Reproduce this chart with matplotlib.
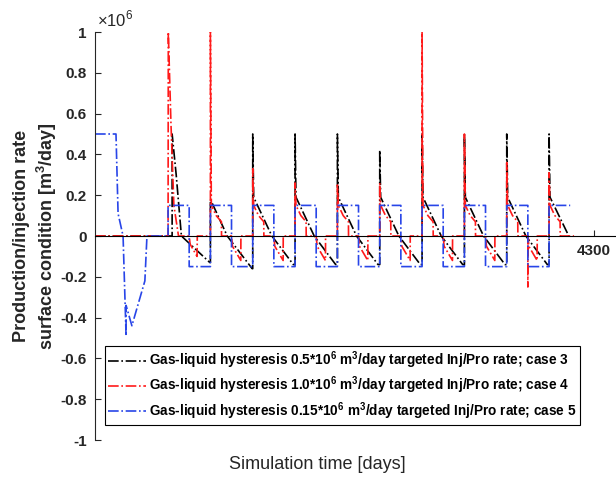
import numpy as np
import matplotlib
matplotlib.use('Agg')
import matplotlib.pyplot as plt

plt.rcParams['font.family'] = 'Liberation Sans'
plt.rcParams['mathtext.fontset'] = 'custom'
plt.rcParams['mathtext.rm'] = 'Liberation Sans'
plt.rcParams['mathtext.bf'] = 'Liberation Sans:bold'

# rates in 10^6 m3/day, time in days (one line per yearly cycle)
case3_days = [0, 665, 665, 700, 745, 990,
              995, 995, 1140, 1355,
              1360, 1360, 1368, 1525, 1710,
              1725, 1725, 1733, 1890, 2075,
              2090, 2090, 2098, 2255, 2440,
              2455, 2455, 2463, 2620, 2805,
              2820, 2820, 2828, 2985, 3170,
              3185, 3185, 3193, 3350, 3535,
              3550, 3550, 3558, 3715, 3900,
              3915, 3915, 3923, 4085]
case3_rate = [0, 0, 0.5, 0.3, 0, -0.13,
              -0.13, 0.18, 0, -0.16,
              -0.16, 0.5, 0.19, 0, -0.14,
              -0.14, 0.5, 0.19, 0, -0.14,
              -0.14, 0.5, 0.19, 0, -0.14,
              -0.14, 0.42, 0.19, 0, -0.14,
              -0.14, 0.5, 0.19, 0, -0.14,
              -0.14, 0.5, 0.19, 0, -0.14,
              -0.14, 0.5, 0.19, 0, -0.14,
              -0.14, 0.5, 0.19, 0]

case4_days = [0, 630, 632, 655, 680, 720, 812, 820, 880, 882,
              995, 995, 1003, 1045, 1090, 1091, 1177, 1185, 1257, 1258,
              1360, 1360, 1368, 1410, 1455, 1456, 1542, 1550, 1622, 1623,
              1725, 1725, 1733, 1775, 1820, 1821, 1907, 1915, 1987, 1988,
              2090, 2090, 2098, 2140, 2185, 2186, 2272, 2280, 2352, 2353,
              2455, 2455, 2463, 2505, 2550, 2551, 2637, 2645, 2717, 2718,
              2820, 2820, 2828, 2870, 2915, 2916, 3002, 3010, 3082, 3083,
              3185, 3185, 3193, 3235, 3280, 3281, 3367, 3375, 3447, 3448,
              3550, 3550, 3558, 3600, 3645, 3646, 3732, 3732, 3734, 3740, 3812, 3813,
              3915, 3915, 3923, 3965, 4010, 4011, 4130]
case4_rate = [0, 0, 1.0, 0.55, 0.15, 0, 0, -0.04, -0.1, 0,
              0, 1.0, 0.15, 0.1, 0.07, 0, 0, -0.05, -0.12, 0,
              0, 0.33, 0.15, 0.1, 0.07, 0, 0, -0.05, -0.12, 0,
              0, 0.26, 0.15, 0.1, 0.07, 0, 0, -0.05, -0.12, 0,
              0, 0.25, 0.15, 0.1, 0.07, 0, 0, -0.05, -0.12, 0,
              0, 0.26, 0.15, 0.1, 0.07, 0, 0, -0.05, -0.12, 0,
              0, 1.0, 0.15, 0.1, 0.07, 0, 0, -0.05, -0.12, 0,
              0, 0.5, 0.15, 0.1, 0.07, 0, 0, -0.05, -0.12, 0,
              0, 0.36, 0.15, 0.1, 0.07, 0, 0, -0.25, 0, -0.05, -0.12, 0,
              0, 0.31, 0.15, 0.1, 0.07, 0, 0]

case5_days = [0, 181, 199, 242, 268, 268, 318, 430, 448, 630,
              630, 812, 812, 995,
              995, 1177, 1177, 1360,
              1360, 1542, 1542, 1725,
              1725, 1907, 1907, 2090,
              2090, 2272, 2272, 2455,
              2455, 2637, 2637, 2820,
              2820, 3002, 3002, 3185,
              3185, 3367, 3367, 3550,
              3550, 3732, 3732, 3915,
              3915, 4097]
case5_rate = [0.5, 0.5, 0.11, 0, -0.49, -0.34, -0.44, -0.22, 0, 0,
              0.15, 0.15, -0.15, -0.15,
              0.15, 0.15, -0.15, -0.15,
              0.15, 0.15, -0.15, -0.15,
              0.15, 0.15, -0.15, -0.15,
              0.15, 0.15, -0.15, -0.15,
              0.15, 0.15, -0.15, -0.15,
              0.15, 0.15, -0.15, -0.15,
              0.15, 0.15, -0.15, -0.15,
              0.15, 0.15, -0.15, -0.15,
              0.15, 0.15]

labels = [r'Gas-liquid hysteresis 0.5*10$^{\mathbf{6}}$ m$^{\mathbf{3}}$/day targeted Inj/Pro rate; case 3',
          r'Gas-liquid hysteresis 1.0*10$^{\mathbf{6}}$ m$^{\mathbf{3}}$/day targeted Inj/Pro rate; case 4',
          r'Gas-liquid hysteresis 0.15*10$^{\mathbf{6}}$ m$^{\mathbf{3}}$/day targeted Inj/Pro rate; case 5']
yticks = [-1, -0.8, -0.6, -0.4, -0.2, 0, 0.2, 0.4, 0.6, 0.8, 1]
ytick_labels = ['-1', '-0.8', '-0.6', '-0.4', '-0.2', '0', '0.2', '0.4', '0.6', '0.8', '1']

fig = plt.figure(figsize=(6.16, 4.79), dpi=100)
ax = fig.add_axes([95/616, 39/479, 1 - 95/616, 408/479])

ax.plot(case3_days, case3_rate, '-.', color='black', lw=1.2, label=labels[0])
ax.plot(case4_days, case4_rate, '-.', color='#ff1a1a', lw=1.2, label=labels[1])
ax.plot(case5_days, case5_rate, '-.', color='#2845e8', lw=1.2, label=labels[2])

ax.set_xlim(0, 4492)
ax.set_ylim(-1, 1)
ax.spines['bottom'].set_position(('data', 0))
ax.spines['top'].set_visible(False)
ax.spines['right'].set_visible(False)
ax.spines['left'].set_color('#262626')

ax.set_xticks([4300])
ax.set_xticklabels(['4300'])
ax.set_yticks(yticks)
ax.set_yticklabels(ytick_labels)
ax.tick_params(direction='in', length=4, width=0.8, labelsize=11, colors='#262626', pad=6)
for lab in ax.get_xticklabels() + ax.get_yticklabels():
    lab.set_fontweight('bold')

ax.text(0.004, 1.006, r'$\times$10$^6$', transform=ax.transAxes, fontsize=12,
        color='#262626', ha='left', va='bottom')

ax.set_ylabel('Production/injection rate\nsurface condition [m$^{\\mathbf{3}}$/day]',
              fontsize=13, fontweight='bold', color='#262626', linespacing=1.3, va='center')
ax.yaxis.set_label_coords(-0.113, 0.5)
ax.set_xlabel('Simulation time [days]', fontsize=13, color='#262626', va='center')
ax.xaxis.set_label_coords(0.426, -0.061)

leg = ax.legend(loc='lower left', bbox_to_anchor=(0.019, 0.037), borderaxespad=0,
                prop={'weight': 'bold', 'size': 9.8}, handlelength=2.8, handletextpad=0.2,
                fancybox=False, edgecolor='black', framealpha=1, labelspacing=0.25,
                borderpad=0.25)
leg.get_frame().set_linewidth(0.8)

plt.savefig('out.png', dpi=100)
